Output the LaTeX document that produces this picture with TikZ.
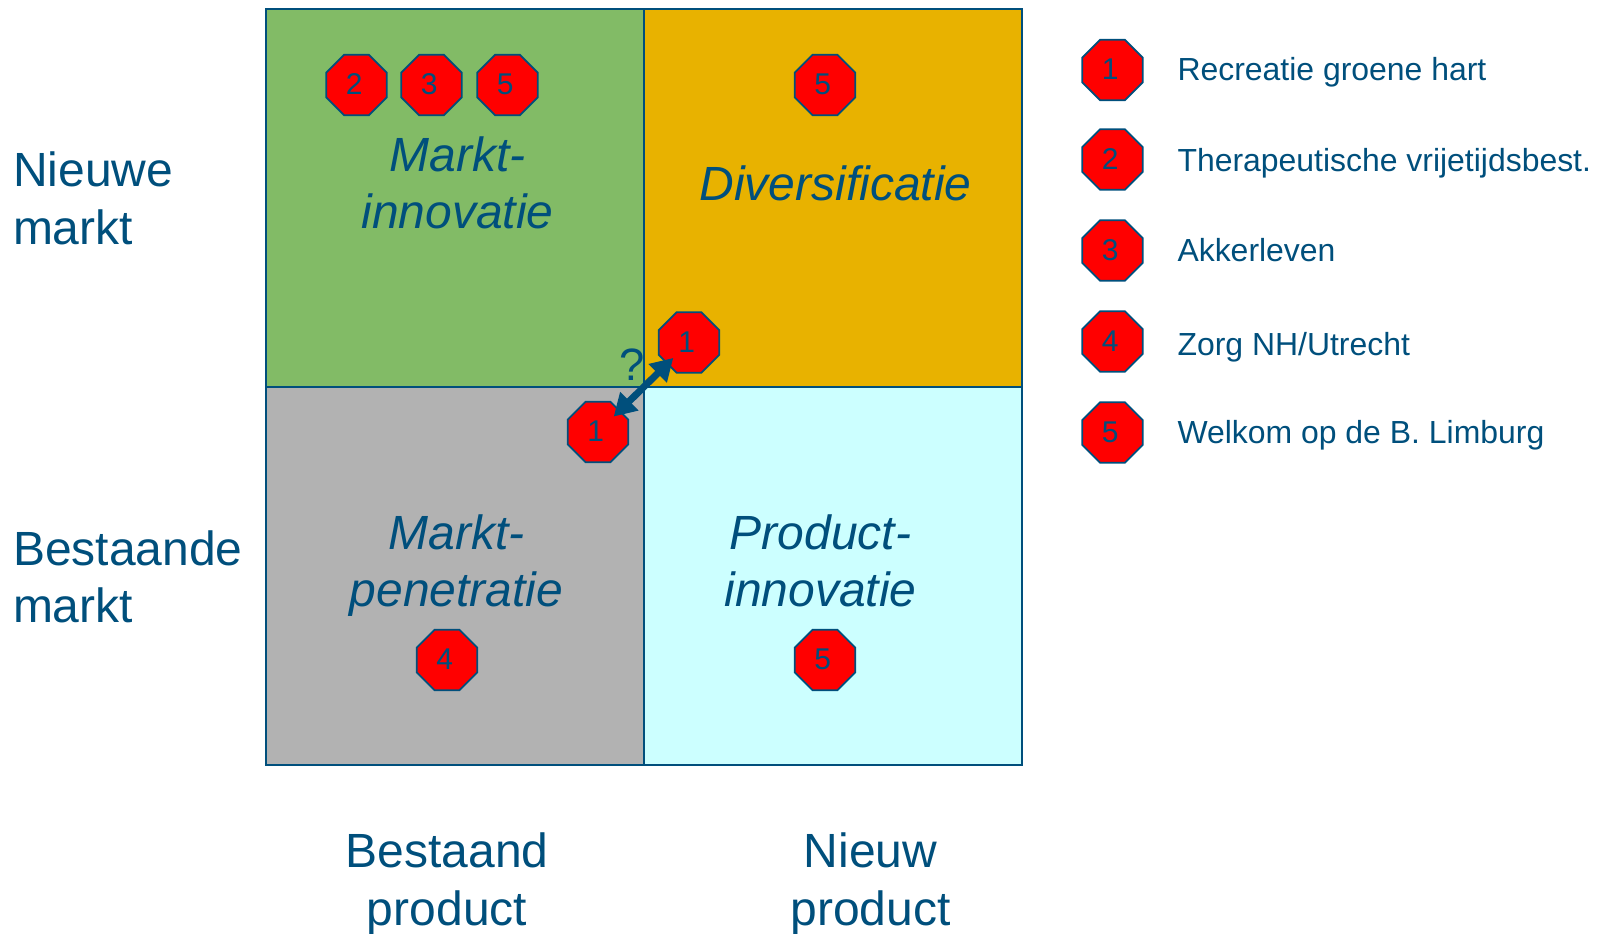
\documentclass[tikz,border=0pt]{standalone}
\usepackage{fontspec}
\setmainfont{Liberation Sans}
\usetikzlibrary{shapes.geometric,arrows.meta}
\definecolor{ink}{HTML}{004F7C}
\definecolor{cgreen}{HTML}{82BB66}
\definecolor{corange}{HTML}{E8B200}
\definecolor{cgrey}{HTML}{B2B2B2}
\definecolor{ccyan}{HTML}{CCFFFF}
\newcommand{\stopnum}[1]{\raisebox{1.2pt}{#1}\kern3.6pt\relax}
\tikzset{
  x=0.75pt,y=-0.75pt,
  every node/.style={text=ink,inner sep=0pt,outer sep=0pt},
  cell/.style={draw=ink,line width=1.5pt,minimum width=283.5pt,minimum height=283.5pt,anchor=center},
  stopsign/.style={regular polygon,regular polygon sides=8,fill=red,draw=ink,line width=1.3pt,minimum size=49pt,font=\fontsize{22.5}{24}\selectfont},
  celltext/.style={font=\fontsize{36}{43.2}\selectfont\itshape,align=center},
  axistext/.style={font=\fontsize{36}{43.2}\selectfont,align=center},
  sidetext/.style={font=\fontsize{36}{43.2}\selectfont,align=left,anchor=west},
  legendtext/.style={font=\fontsize{23.95}{28}\selectfont,anchor=base west},
  twohead/.style={{Triangle[length=16.5pt,width=18.5pt]}-{Triangle[length=16.5pt,width=18.5pt]},draw=ink,line width=5.2pt,shorten <=16.5pt,shorten >=16.5pt}
}
\begin{document}
\begin{tikzpicture}
\useasboundingbox (0,0) rectangle (1610,933);
\node[cell,fill=cgreen] (c1) at (455,198) {};
\node[cell,fill=corange] (c2) at (833,198) {};
\node[cell,fill=cgrey] (c3) at (455,576) {};
\node[cell,fill=ccyan] (c4) at (833,576) {};
\node[celltext] (t1) at (457.5,183) {Markt-\\innovatie};
\node[celltext] (t2) at (835.5,183) {Diversificatie};
\node[celltext] (t3) at (456.5,565.5) {Markt-\\penetratie};
\node[celltext] (t4) at (820.5,561) {Product-\\innovatie};
\node[sidetext] (s1) at (13,198.5) {Nieuwe\\markt};
\node[sidetext] (s2) at (13,577) {Bestaande\\markt};
\node[axistext] (b1) at (447,884) {Bestaand\\product};
\node[axistext] (b2) at (870.5,884) {Nieuw\\product};
\node[stopsign] (a2) at (356.5,85) {\stopnum{2}};
\node[stopsign] (a3) at (431.5,85) {\stopnum{3}};
\node[stopsign] (a5) at (507.5,85) {\stopnum{5}};
\node[stopsign] (d5) at (825,85) {\stopnum{5}};
\node[stopsign] (tr) at (689,342.5) {\stopnum{1}};
\node[stopsign] (bl) at (598,432) {\stopnum{1}};
\node[stopsign] (p4) at (447,660) {\stopnum{4}};
\node[stopsign] (i5) at (825,660) {\stopnum{5}};
\node[font=\fontsize{34}{40}\selectfont] (q) at (632,365) {?};
\draw[twohead] (bl.center) -- (tr.center);
\foreach \n/\y/\b/\t in {1/70/80/{Recreatie groene hart},2/159.5/171/{Therapeutische vrijetijdsbest.},3/250.5/261/{Akkerleven},4/341.5/355/{Zorg NH/Utrecht},5/432.5/443/{Welkom op de B. Limburg}}{
  \node[stopsign] (k\n) at (1112.5,\y) {\stopnum{\n}};
  \node[legendtext] (l\n) at (1177.5,\b) {\t};
}
\end{tikzpicture}
\end{document}
